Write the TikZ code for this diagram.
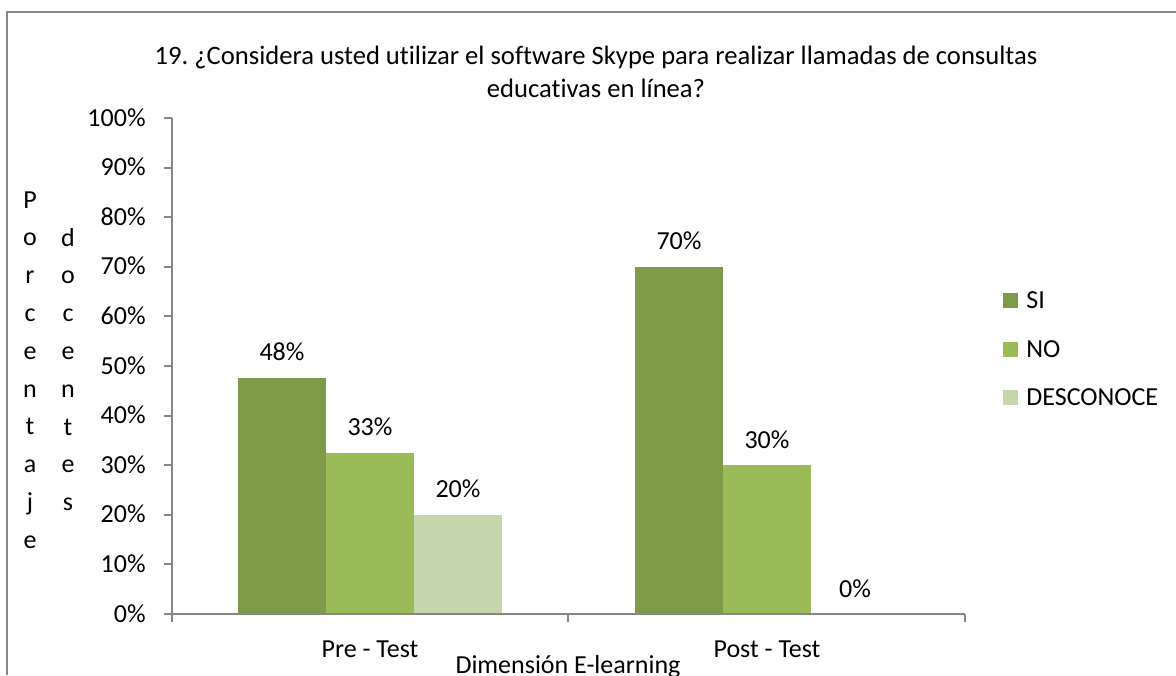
\documentclass[tikz,border=0pt]{standalone}
\usepackage{fontspec}
\setmainfont{Carlito}[Ligatures=NoCommon]
\usetikzlibrary{positioning}
\definecolor{siclr}{RGB}{127,154,72}
\definecolor{noclr}{RGB}{155,187,89}
\definecolor{desclr}{RGB}{198,214,172}
\definecolor{axclr}{RGB}{134,134,134}
\frenchspacing

\begin{document}
\begin{tikzpicture}[
  x=0.5pt,y=-0.5pt,
  font=\fontsize{13}{16}\selectfont,
  axis/.style={draw=axclr,line width=1pt},
  lbl/.style={inner sep=0pt,anchor=base},
  legbox/.style={minimum size=7.5pt,inner sep=0pt,anchor=south west}]
\useasboundingbox (0,0) rectangle (1176,675);
\draw[axclr,line width=1pt] (7,675) -- (7,12) -- (1176,12);

% title
\node[align=center,font=\fontsize{13.3}{16.5}\selectfont] (title) at (596,72)
  {19. ¿Considera usted utilizar el software Skype para realizar llamadas de consultas\\educativas en línea?};

% bars and values
\foreach \bx/\bh/\bc/\bv [count=\i] in {238/47.6/siclr/48,326/32.5/noclr/33,414/20/desclr/20,
                                        635/70/siclr/70,723/30/noclr/30,811/0/desclr/0}{
  \fill[\bc] (\bx,614) rectangle ++(88,-4.96*\bh);
  \node[lbl] (val\i) at (\bx+44,{614-4.96*\bh-17}) {\bv\%};
}

% axes
\draw[axis] (172,118) -- (172,614);
\draw[axis] (164,614) -- (965,614);
\foreach \p in {0,10,...,100}{
  \draw[axis] (164,{614-4.96*\p}) -- (172,{614-4.96*\p});
  \node[lbl,anchor=base east] (y\p) at (146,{622-4.96*\p}) {\p\%};
}
\foreach \tx in {172,568,965}
  \draw[axis] (\tx,614) -- (\tx,622);

% axis titles
\node[lbl] (pre)  at (370,657) {Pre - Test};
\node[lbl] (post) at (767,657) {Post - Test};
\node[lbl] (dim)  at (568,673) {Dimensión E-learning};
\foreach \c [count=\i] in {P,o,r,c,e,n,t,a,j,e}
  \node[lbl] (pa\i) at (30,{208+37.8*(\i-1)}) {\c};
\foreach \c [count=\i] in {d,o,c,e,n,t,e,s}
  \node[lbl] (do\i) at (68,{246+37.8*(\i-1)}) {\c};

% legend
\node[legbox,fill=siclr]  (ksi)  at (1003,308) {};
\node[legbox,fill=noclr]  (kno)  at (1003,357) {};
\node[legbox,fill=desclr] (kdes) at (1003,405) {};
\node[lbl,anchor=base west] (tsi)  at (1026,308) {SI};
\node[lbl,anchor=base west] (tno)  at (1026,357) {NO};
\node[lbl,anchor=base west] (tdes) at (1026,405) {DESCONOCE};
\end{tikzpicture}
\end{document}
